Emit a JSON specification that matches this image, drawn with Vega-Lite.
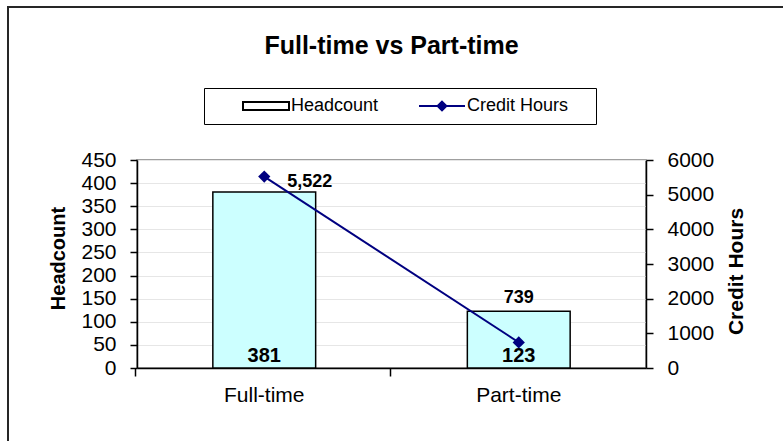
{
  "$schema": "https://vega.github.io/schema/vega-lite/v6.json",
  "width": 509,
  "height": 208,
  "autosize": {"type": "none"},
  "padding": {"left": 137, "top": 160, "right": 137, "bottom": 73},
  "background": "white",
  "title": {
    "text": "Full-time vs Part-time",
    "font": "Liberation Sans",
    "fontSize": 25,
    "fontWeight": "bold",
    "color": "black",
    "anchor": "middle",
    "frame": "group",
    "offset": -52
  },
  "config": {
    "font": "Liberation Sans",
    "view": {"stroke": "#808080", "strokeWidth": 1.5},
    "legend": {"gradientHorizontalMaxLength": 1500},
    "axis": {
      "labelFont": "Liberation Sans",
      "labelColor": "black",
      "titleFont": "Liberation Sans",
      "titleColor": "black",
      "domainColor": "black",
      "domainWidth": 1.5,
      "tickColor": "black",
      "tickWidth": 1.5,
      "labelOverlap": false
    }
  },
  "data": {
    "values": [
      {"type": "Full-time", "headcount": 381, "credit_hours": 5522},
      {"type": "Part-time", "headcount": 123, "credit_hours": 739}
    ]
  },
  "encoding": {
    "x": {
      "field": "type",
      "type": "nominal",
      "sort": null,
      "scale": {"paddingInner": 0.596, "paddingOuter": 0.298},
      "axis": {
        "title": null,
        "labelAngle": 0,
        "labelFontSize": 21,
        "tickSize": 8,
        "labelPadding": 8,
        "bandPosition": -0.75
      }
    }
  },
  "layer": [
    {
      "layer": [
        {
          "mark": {"type": "bar", "fill": "#CCFFFF", "stroke": "black", "strokeWidth": 1.5},
          "encoding": {
            "y": {
              "field": "headcount",
              "type": "quantitative",
              "scale": {"domain": [0, 450]},
              "axis": {
                "title": "Headcount",
                "titleFontSize": 20,
                "titleFontWeight": "bold",
                "titleAngle": 270,
                "titleAlign": "center",
                "titleBaseline": "middle",
                "titleX": -79,
                "titleY": 98,
                "values": [0, 50, 100, 150, 200, 250, 300, 350, 400, 450],
                "tickCount": 20,
                "labelOverlap": false,
                "labelFontSize": 21,
                "tickSize": 7,
                "labelPadding": 14,
                "grid": true,
                "gridColor": "#e6e6e6",
                "gridWidth": 1
              }
            }
          }
        },
        {
          "mark": {"type": "text", "baseline": "alphabetic", "align": "center", "dy": -6, "fontSize": 20, "fontWeight": "bold", "color": "black"},
          "encoding": {
            "y": {"datum": 0, "type": "quantitative"},
            "text": {"field": "headcount", "type": "quantitative", "format": ","}
          }
        }
      ]
    },
    {
      "layer": [
        {
          "mark": {"type": "line", "strokeWidth": 2, "point": {"shape": "diamond", "filled": true, "size": 150}},
          "encoding": {
            "y": {
              "field": "credit_hours",
              "type": "quantitative",
              "scale": {"domain": [0, 6000]},
              "axis": {
                "orient": "right",
                "title": "Credit Hours",
                "titleFontSize": 21,
                "titleFontWeight": "bold",
                "titleAngle": 270,
                "titleAlign": "center",
                "titleBaseline": "middle",
                "titleX": 90,
                "titleY": 111,
                "values": [0, 1000, 2000, 3000, 4000, 5000, 6000],
                "tickCount": 20,
                "labelOverlap": false,
                "format": "d",
                "labelFontSize": 21,
                "tickSize": 7,
                "labelPadding": 14,
                "grid": false
              }
            },
            "color": {
              "datum": "Credit Hours",
              "type": "nominal",
              "scale": {"domain": ["Headcount", "Credit Hours"], "range": ["black", "#000080"]},
              "legend": {
                "title": "\u00a0",
                "titleOrient": "right",
                "titleFontSize": 18,
                "titlePadding": 19,
                "orient": "none",
                "legendX": 67,
                "legendY": -72,
                "direction": "horizontal",
                "strokeColor": "black",
                "padding": 9,
                "labelFontSize": 18,
                "labelColor": "black",
                "symbolSize": 64,
                "symbolOffset": 44,
                "labelOffset": 16,
                "columnPadding": 10,
                "encode": {
                  "symbols": {
                    "update": {
                      "shape": {"signal": "datum.value === 'Headcount' ? 'M-5.75,-1H5.75V1H-5.75ZM-5.75,-1V1H5.75V-1Z' : 'M-5.75,0H5.75M0,-1.1L1.1,0L0,1.1L-1.1,0Z'"},
                      "strokeWidth": {"value": 2},
                      "strokeOpacity": {"value": 1},
                      "opacity": {"value": 1},
                      "fillOpacity": {"value": 1}
                    }
                  }
                }
              }
            }
          }
        },
        {
          "mark": {"type": "point", "opacity": 0},
          "encoding": {
            "y": {"field": "credit_hours", "type": "quantitative"},
            "stroke": {
              "field": "credit_hours",
              "type": "quantitative",
              "scale": {"range": ["rgba(0,0,0,0)", "rgba(0,0,0,0)"]},
              "legend": {
                "type": "gradient",
                "title": null,
                "orient": "none",
                "legendX": -129,
                "legendY": -153,
                "direction": "horizontal",
                "padding": 0,
                "gradientLength": 777,
                "gradientThickness": 460,
                "gradientStrokeColor": "#262626",
                "gradientStrokeWidth": 2,
                "labelOpacity": 0,
                "labelExpr": "''",
                "tickCount": 2
              }
            }
          }
        },
        {
          "transform": [{"filter": "datum.type === 'Full-time'"}],
          "mark": {"type": "text", "baseline": "alphabetic", "align": "left", "dx": 23, "dy": 10, "fontSize": 18, "fontWeight": "bold", "color": "black"},
          "encoding": {
            "y": {"field": "credit_hours", "type": "quantitative"},
            "text": {"field": "credit_hours", "type": "quantitative", "format": ","}
          }
        },
        {
          "transform": [{"filter": "datum.type === 'Part-time'"}],
          "mark": {"type": "text", "baseline": "alphabetic", "align": "center", "dy": -39, "fontSize": 18, "fontWeight": "bold", "color": "black"},
          "encoding": {
            "y": {"field": "credit_hours", "type": "quantitative"},
            "text": {"field": "credit_hours", "type": "quantitative", "format": ","}
          }
        }
      ]
    }
  ],
  "resolve": {"scale": {"y": "independent"}}
}
